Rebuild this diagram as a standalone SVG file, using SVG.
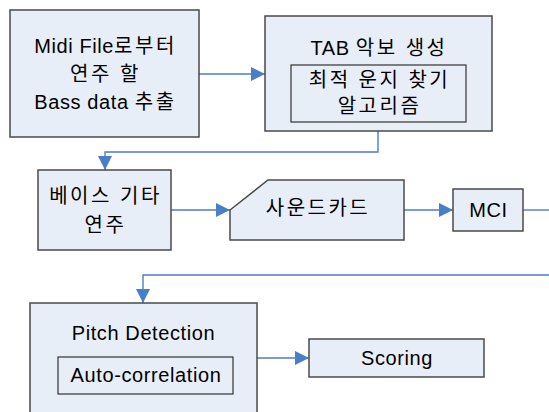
<svg xmlns="http://www.w3.org/2000/svg" width="549" height="412" viewBox="0 0 549 412">
<defs>
<style>
.box{fill:#E8EEF8;stroke:#4a4a4a;stroke-width:1.5}
.inner{fill:#E8EEF8;stroke:#333;stroke-width:1.2}
.t{font-family:"Liberation Sans","Noto Sans CJK KR",sans-serif;font-size:20px;fill:#000;text-anchor:middle;letter-spacing:0.6px}
.k{letter-spacing:2.5px}
.c{fill:none;stroke:#4A7EC8;stroke-width:1.4}
</style>
<marker id="ah" viewBox="0 0 14 14" refX="14" refY="7" markerWidth="14" markerHeight="14" markerUnits="userSpaceOnUse" orient="auto">
<path d="M0,0 L14,7 L0,14 Z" fill="#4A7EC8"/>
</marker>
</defs>
<rect width="549" height="412" fill="#fff"/>
<g id="connectors">
<path class="c" d="M199,74 H265" marker-end="url(#ah)"/>
<path class="c" d="M378,131 V152 H105 V170" marker-end="url(#ah)"/>
<path class="c" d="M171,210 H230" marker-end="url(#ah)"/>
<path class="c" d="M404,210 H453" marker-end="url(#ah)"/>
<path class="c" d="M523,210 H549"/>
<path class="c" d="M549,275 H143 V303" marker-end="url(#ah)"/>
<path class="c" d="M257,358 H309" marker-end="url(#ah)"/>
</g>
<g id="midi">
<rect class="box" x="10" y="10" width="189" height="127"/>
<text class="t" x="105.5" y="53">Midi File<tspan class="k">로부터</tspan></text>
<text class="t k" x="105.5" y="81">연주 할</text>
<text class="t" x="105.5" y="109">Bass data <tspan class="k">추출</tspan></text>
</g>
<g id="tab">
<rect class="box" x="265" y="16" width="227" height="115"/>
<text class="t" x="379" y="55">TAB <tspan class="k">악보 생성</tspan></text>
<rect class="inner" x="291" y="65" width="175" height="57"/>
<text class="t k" x="379.5" y="87">최적 운지 찾기</text>
<text class="t k" x="379.5" y="113">알고리즘</text>
</g>
<g id="bass">
<rect class="box" x="38" y="170" width="133" height="80"/>
<text class="t k" x="105.5" y="203">베이스 기타</text>
<text class="t k" x="105.5" y="232">연주</text>
</g>
<g id="soundcard">
<polygon class="box" points="268,180 404,180 404,240 230,240 230,210"/>
<text class="t k" x="318" y="215">사운드카드</text>
</g>
<g id="mci">
<rect class="box" x="453" y="189" width="70" height="42"/>
<text class="t" x="488.5" y="217">MCI</text>
</g>
<g id="pitch">
<rect class="box" x="30" y="303" width="227" height="120"/>
<text class="t" x="143.5" y="340">Pitch Detection</text>
<rect class="inner" x="58" y="357" width="175" height="37"/>
<text class="t" x="146" y="382">Auto-correlation</text>
</g>
<g id="scoring">
<rect class="box" x="309" y="339" width="175" height="38"/>
<text class="t" x="397" y="365">Scoring</text>
</g>
</svg>
